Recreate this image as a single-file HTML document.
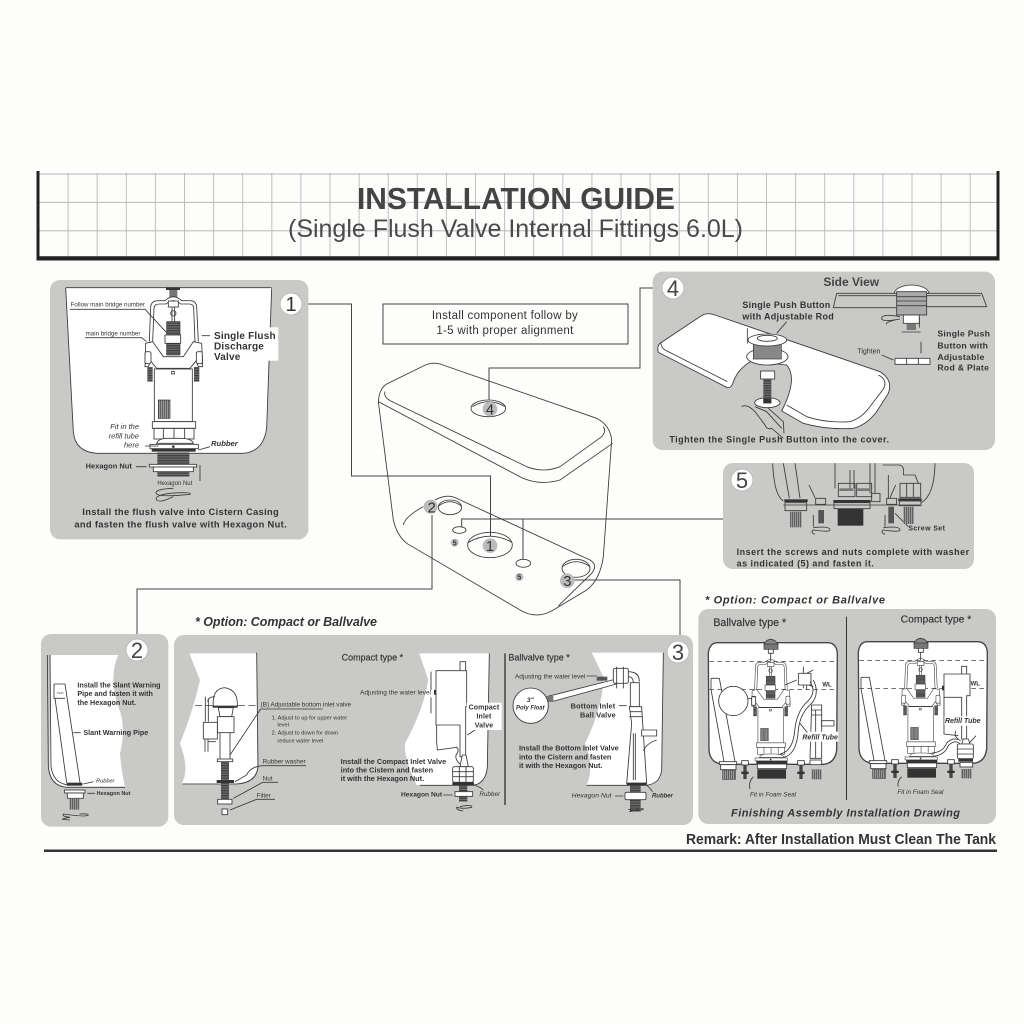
<!DOCTYPE html>
<html><head><meta charset="utf-8"><title>Installation Guide</title>
<style>
html,body{margin:0;padding:0;background:#fdfdfc;width:1024px;height:1024px;overflow:hidden}
svg{display:block;filter:blur(.35px)}
text{font-family:"Liberation Sans",sans-serif;fill:#333}
.b{font-weight:bold}.i{font-style:italic}
.l{fill:none;stroke:#3a3a3a;stroke-width:2.6}
.t{fill:none;stroke:#444;stroke-width:2.2}
.w{fill:#fff;stroke:#3a3a3a;stroke-width:2.6}
.d{fill:#333;stroke:none}
.p{fill:#c9c9c7}
.c{fill:#fff;stroke:#bbb;stroke-width:1}
.cn{fill:#333;text-anchor:middle;font-size:20px}
</style></head><body>
<svg xmlns="http://www.w3.org/2000/svg" width="1024" height="1024" viewBox="0 0 1024 1024">
<defs>
<pattern id="h" patternUnits="userSpaceOnUse" width="6" height="5"><rect width="6" height="5" fill="#777"/><rect width="6" height="2.4" fill="#333"/></pattern>
<pattern id="v" patternUnits="userSpaceOnUse" width="6" height="6"><rect width="6" height="6" fill="#999"/><rect width="2.5" height="6" fill="#555"/></pattern>
<pattern id="grid" patternUnits="userSpaceOnUse" x="67.6" y="173.5" width="29.1" height="28.4"><path d="M.5,0V28.4M0,.5H29.1" stroke="#b8b8b8" stroke-width=".9" fill="none"/></pattern>
<g id="valve">
 <path class="l" d="M358,530 L362,425 Q364,407 385,407 L405,407 Q418,395 430,395 Q442,395 455,407 L480,407 Q498,407 500,425 L505,530"/>
 <path class="l" d="M368,530 L372,428 Q374,417 388,417 L408,417 Q420,407 430,407 Q442,407 452,417 L478,417 Q490,417 491,428 L495,530"/>
 <rect class="w" x="415" y="408" width="30" height="18"/>
 <circle class="l" cx="430" cy="445" r="8"/>
 <path class="l" d="M426,426V470M434,426V470"/>
 <rect x="410" y="470" width="40" height="100" fill="url(#h)" stroke="#333" stroke-width="2"/>
 <rect class="w" x="405" y="510" width="47" height="25"/>
 <path class="w" d="M347,535 L368,530 L400,575 L460,575 L490,530 L515,535 L518,605 L505,605 L498,588 L480,610 L380,610 L362,588 L355,605 L345,605 Z"/>
 <rect class="w" x="345" y="560" width="18" height="36" rx="5"/><rect class="w" x="499" y="560" width="18" height="36" rx="5"/>
 <rect x="352" y="606" width="16" height="44" fill="url(#h)"/><rect x="492" y="606" width="16" height="44" fill="url(#h)"/>
 <rect class="w" x="373" y="612" width="114" height="158"/>
 <rect x="385" y="705" width="35" height="55" fill="url(#v)" stroke="#333" stroke-width="2"/>
 <rect class="l" x="425" y="619" width="8" height="8"/>
 <rect class="w" x="367" y="770" width="130" height="20"/>
 <rect class="l" x="372" y="790" width="120" height="32"/>
 <path class="l" d="M400,790V822M432,790V822M464,790V822"/>
 <path class="w" d="M380,835 Q385,820 415,820 L450,820 Q485,820 490,835Z"/>
 <rect class="w" x="360" y="838" width="145" height="13"/>
 <circle class="d" cx="430" cy="845" r="4"/>
 <rect class="d" x="365" y="852" width="132" height="8"/>
</g>
<g id="tank">
 <path class="w" style="stroke-width:4;stroke:#444" d="M50,38 L385,38 Q410,40 412,70 L410,360 Q405,400 370,403 L70,403 Q30,400 27,360 L25,70 Q28,40 50,38Z"/>
 <path class="t" stroke-dasharray="14 10" d="M28,95H412M28,178H412"/>
 <path class="w" d="M192,45 Q195,30 212,28 Q230,30 234,45Z" style="fill:#888"/>
 <rect x="192" y="42" width="42" height="16" fill="#777" stroke="#333" stroke-width="2"/>
 <path class="l" d="M205,58 L205,70 L220,70 L220,58M212,70V95"/>
 <g transform="translate(-75 -175) scale(.667)"><use href="#valve"/></g>
 <path class="l" d="M33,145 L58,145 L105,395M33,145 L33,178 L72,395"/>
 <rect class="w" x="58" y="395" width="52" height="9"/>
 <rect x="68" y="420" width="38" height="28" fill="url(#v)" stroke="#444" stroke-width="2"/>
 <rect class="w" x="62" y="404" width="46" height="15"/>
 <rect x="170" y="393" width="92" height="9" fill="#333"/>
 <rect class="w" x="172" y="402" width="88" height="14"/>
 <rect class="d" x="172" y="418" width="86" height="28"/>
 <g id="sc"><rect class="w" x="125" y="392" width="20" height="13"/><rect x="130" y="405" width="10" height="42" fill="#444"/><rect class="d" x="124" y="425" width="22" height="7"/></g>
 <use href="#sc" x="168"/>
</g>
</defs>

<!-- Header -->
<rect x="39" y="173" width="958" height="84" fill="url(#grid)"/>
<path d="M38,171V259H998V171" fill="none" stroke="#222" stroke-width="3"/>
<path d="M38,258H998" stroke="#222" stroke-width="3.5"/>
<text x="357" y="209" class="b" font-size="31" textLength="318" lengthAdjust="spacingAndGlyphs" style="fill:#444">INSTALLATION GUIDE</text>
<text x="288" y="237" font-size="25" textLength="455" lengthAdjust="spacingAndGlyphs" style="fill:#4a4a4a">(Single Flush Valve Internal Fittings 6.0L)</text>

<!-- Connectors -->
<g fill="none" stroke="#444" stroke-width="1">
 <path d="M300,304H351.5V476H490.5V536"/>
 <path d="M662,288H640V368H489V400"/>
 <path d="M742,490V519H461.7V527M523,519V559"/>
 <path d="M137,638V589H432V515"/>
 <path d="M680,640V580H573"/>
</g>

<!-- Panel 1 -->
<g transform="translate(30 165) scale(.33333)">
 <rect class="p" x="60" y="345" width="775" height="778" rx="30"/>
 <path fill="#fff" d="M107,368 L725,368 L710,790 Q700,860 640,865 L200,865 Q135,860 130,800Z"/>
 <path class="l" d="M107,368 H725 M107,368 L130,800 Q135,860 200,865 L640,865 Q700,860 710,790 L725,370"/>
 <rect x="515" y="487" width="230" height="100" fill="#fff"/>
 <rect class="d" x="408" y="367" width="42" height="8"/><rect fill="#777" x="418" y="375" width="24" height="22"/>
 <use href="#valve"/>
 <rect x="382" y="862" width="96" height="36" fill="url(#h)"/>
 <rect class="w" x="358" y="898" width="142" height="8"/>
 <rect class="w" x="370" y="906" width="120" height="14"/>
 <rect x="382" y="920" width="96" height="15" fill="url(#h)"/>
 <path class="l" d="M430,970 Q375,972 378,985 Q385,998 480,988 Q490,980 420,985 Q370,992 380,1005 Q390,1015 430,995"/>
 <path class="l" d="M510,900V948M120,433H345L410,503M165,518H335L350,530M318,905H350M515,512H540M345,843H385M505,855L540,845"/>
 <text x="122" y="425" font-size="18.5">Follow main bridge number</text>
 <text x="167" y="512" font-size="18.5">main bridge number</text>
 <g class="b" font-size="30" letter-spacing=".6"><text x="552" y="522">Single Flush</text><text x="552" y="553">Discharge</text><text x="552" y="585">Valve</text></g>
 <g class="i" font-size="22.5" text-anchor="end"><text x="327" y="792">Fit in the</text><text x="327" y="820">refill tube</text><text x="327" y="848">here</text></g>
 <text x="543" y="843" class="b i" font-size="23">Rubber</text>
 <text x="167" y="910" class="b" font-size="22.5">Hexagon Nut</text>
 <text x="382" y="960" font-size="18">Hexagon Nut</text>
 <g class="b" font-size="28" text-anchor="middle" letter-spacing="1"><text x="452" y="1050">Install the flush valve into Cistern Casing</text><text x="452" y="1088">and fasten the flush valve with Hexagon Nut.</text></g>
</g>
<circle class="c" cx="291" cy="304" r="11"/><text x="291" y="311" class="cn">1</text>

<!-- Cistern -->
<rect x="383" y="304" width="245" height="40" fill="#fdfdfc" stroke="#444" stroke-width="1"/>
<g font-size="11.5" text-anchor="middle" style="letter-spacing:.3px"><text x="505" y="319">Install component follow by</text><text x="505" y="334">1-5 with proper alignment</text></g>
<g transform="translate(340 290) scale(.33333)">
 <path class="l" d="M115,335 L160,690 Q170,735 200,760 L540,960 Q590,990 640,960 L740,900 Q780,870 790,800 L815,450"/>
 <path class="l" d="M115,335 Q118,295 140,282 L250,228 Q275,215 300,222 L770,385 Q810,405 815,450"/>
 <path class="l" d="M115,335 L530,555 Q590,590 660,570 L818,460"/>
 <path class="l" d="M135,305 Q130,320 150,332 L560,530 Q610,550 660,530 L785,440 Q800,425 790,410"/>
 <path class="l" d="M190,705 Q195,680 250,650 M285,630 Q320,610 350,625 L750,810 Q775,825 755,850 L655,948"/>
 <g class="l">
  <ellipse cx="445" cy="355" rx="52" ry="25"/><path d="M398,350 Q445,320 495,350"/>
  <ellipse cx="330" cy="652" rx="35" ry="22"/><path d="M296,648 Q330,622 364,648"/>
  <ellipse cx="450" cy="765" rx="67" ry="38"/><path d="M385,757 Q450,720 516,757"/>
  <ellipse cx="358" cy="720" rx="20" ry="10"/>
  <ellipse cx="550" cy="820" rx="22" ry="12"/>
  <ellipse cx="708" cy="835" rx="42" ry="27"/><path d="M667,830 Q708,800 750,830"/>
 </g>
 <g fill="#bbb"><circle cx="450" cy="357" r="22"/><circle cx="272" cy="650" r="21"/><circle cx="450" cy="767" r="22"/><circle cx="682" cy="872" r="22"/><circle cx="344" cy="758" r="12"/><circle cx="538" cy="861" r="12"/></g>
 <g font-size="44" text-anchor="middle" style="fill:#444"><text x="450" y="373">4</text><text x="275" y="667">2</text><text x="450" y="783">1</text><text x="682" y="888">3</text></g>
 <g font-size="22" text-anchor="middle" class="b"><text x="344" y="766">5</text><text x="538" y="869">5</text></g>
</g>

<!-- Panel 4 -->
<g transform="translate(640 265) scale(.33333)">
 <rect class="p" x="38" y="20" width="1027" height="535" rx="30"/>
 <path class="w" d="M60,235 Q50,245 55,262 L262,368 Q275,370 280,350 Q295,310 335,288 L440,300 Q475,340 425,438 L490,475 Q560,495 640,490 Q680,480 710,440 L745,385 Q760,345 720,320 L225,150 Q200,140 180,155Z"/>
 <path class="l" d="M62,232 Q64,250 75,255 L262,350 M440,420 L500,455 Q560,475 630,470 Q665,460 690,425 L730,372 Q745,345 715,330"/>
 <path class="l" d="M305,425 Q320,415 345,440 L375,480 Q380,495 395,490 L430,520 M345,425 L380,440 L425,490 M385,430 L430,470 L432,505"/>
 <ellipse class="w" cx="382" cy="413" rx="38" ry="15"/>
 <rect x="370" y="340" width="24" height="75" fill="url(#h)"/><rect class="d" x="370" y="400" width="24" height="15"/>
 <rect class="w" x="362" y="318" width="42" height="24"/>
 <ellipse class="w" cx="382" cy="275" rx="62" ry="25"/>
 <rect x="340" y="232" width="84" height="50" fill="#888" stroke="#333" stroke-width="2"/>
 <ellipse class="w" cx="382" cy="225" rx="58" ry="18"/><ellipse class="w" cx="382" cy="220" rx="30" ry="9"/>
 <path class="l" d="M322,190V235M440,170L410,205"/>
 <path class="l" d="M590,85 L770,85 M590,85 L580,128 L768,128 M595,92H770M860,85 L1025,85 L1040,125 L860,125M860,92H1022"/>
 <path class="w" d="M762,85 Q770,62 815,60 Q860,62 868,85Z"/>
 <rect class="w" x="770" y="80" width="90" height="70" style="fill:#aaa"/>
 <path class="l" d="M770,95H860M770,108H860M770,122H860"/>
 <rect class="w" x="790" y="150" width="48" height="25"/>
 <rect x="800" y="175" width="28" height="20" fill="#777"/>
 <path class="l" d="M785,201H842M838,188V155M843,265V230M725,270L760,285M780,155 Q725,145 725,160 Q725,172 780,162 Q735,170 740,178"/>
 <rect class="w" x="765" y="280" width="105" height="18"/><path class="l" d="M800,280V298M835,280V298"/>
 <text x="550" y="63" class="b" font-size="36" style="fill:#444">Side View</text>
 <g class="b" font-size="27" letter-spacing=".9"><text x="307" y="129">Single Push Button</text><text x="307" y="163">with Adjustable Rod</text>
 <text x="892" y="215" font-size="26">Single Push</text><text x="892" y="250" font-size="26">Button with</text><text x="892" y="285" font-size="26">Adjustable</text><text x="892" y="317" font-size="26">Rod &amp; Plate</text>
 <text x="88" y="532" textLength="660" lengthAdjust="spacing">Tighten the Single Push Button into the cover.</text></g>
 <text x="652" y="265" font-size="21">Tighten</text>
</g>
<circle class="c" cx="673" cy="288" r="11"/><text x="673" y="296" class="cn" style="fill:#444;font-size:22px">4</text>

<!-- Panel 5 -->
<rect class="p" x="723" y="463" width="251" height="106" rx="10"/>
<g transform="translate(750 455) scale(.33333)">
 <path class="l" d="M68,25 Q72,120 100,138 M555,25 Q553,120 515,142 M100,25 L118,130 M135,25 L150,130 M100,150H510"/>
 <path class="l" d="M255,25V100 M300,45V100 M312,45V100M360,25V115M375,25V115M415,60V130 M398,30H445Q465,30 460,60"/>
 <rect class="l" x="265" y="85" width="50" height="40"/><rect class="l" x="320" y="85" width="45" height="40"/><rect class="l" x="365" y="115" width="25" height="25"/>
 <rect fill="#777" x="268" y="100" width="42" height="8"/><rect fill="#777" x="322" y="100" width="40" height="8"/>
 <rect class="d" x="250" y="135" width="112" height="8"/><rect class="l" x="252" y="143" width="108" height="18"/>
 <rect class="d" x="263" y="162" width="77" height="50"/>
 <rect class="d" x="103" y="133" width="70" height="8"/><rect class="l" x="105" y="143" width="65" height="24"/><rect x="120" y="170" width="35" height="47" fill="url(#v)"/>
 <rect class="l" x="197" y="130" width="30" height="18"/><rect x="205" y="165" width="17" height="40" fill="#555"/>
 <rect class="l" x="410" y="130" width="30" height="18"/><rect x="415" y="155" width="17" height="50" fill="#555"/>
 <path class="l" d="M177,90L195,128M437,90L420,128M190,180V215M405,180V215M435,175L475,215"/>
 <path class="l" d="M190,218 Q240,212 240,225 Q240,232 190,225 Q180,232 195,238"/>
 <path class="l" d="M400,218 Q450,212 450,225 Q450,232 400,225 Q390,232 405,238"/>
 <rect class="l" x="450" y="85" width="62" height="42"/><path class="l" d="M460,60H495L505,85M470,85V127M490,85V127"/>
 <rect class="d" x="445" y="130" width="70" height="8"/><rect class="l" x="448" y="138" width="65" height="14"/><rect x="460" y="155" width="32" height="52" fill="url(#v)"/>
</g>
<g transform="translate(640 265) scale(.33333)">
 <text x="805" y="797" class="b" font-size="21" letter-spacing="1.2">Screw Set</text>
 <g class="b" font-size="27" letter-spacing=".6"><text x="290" y="870" textLength="698" lengthAdjust="spacing">Insert the screws and nuts complete with washer</text><text x="290" y="905" textLength="412" lengthAdjust="spacing">as indicated (5) and fasten it.</text></g>
</g>
<circle class="c" cx="742" cy="480" r="11"/><text x="742" y="488" class="cn" style="fill:#444;font-size:22px">5</text>

<!-- Panels 2 & options -->
<text x="195" y="626" class="b i" font-size="12.5" textLength="182" lengthAdjust="spacing">* Option: Compact or Ballvalve</text>
<g transform="translate(30 610) scale(.33333)">
 <rect class="p" x="33" y="72" width="382" height="578" rx="30"/>
 <rect class="p" x="432" y="75" width="1557" height="570" rx="30"/>
 <path fill="#fff" d="M62,135 L265,135 Q235,200 265,290 Q290,350 270,430 Q275,490 285,530 L110,530 Q60,525 58,470Z"/>
 <path class="l" d="M52,135 L55,470 Q60,528 110,532 L285,532 M60,135 L63,470 Q70,518 110,524"/>
 <path class="l" d="M72,222 L105,222 L150,518 M75,265 L110,518 M72,222V265H105"/>
 <text x="81" y="252" font-size="8">TEXT</text>
 <rect class="d" x="110" y="518" width="47" height="9"/>
 <rect class="w" x="103" y="540" width="62" height="9"/><rect class="w" x="112" y="549" width="48" height="16"/>
 <rect x="118" y="565" width="30" height="34" fill="url(#v)"/>
 <path class="l" d="M148,612 Q175,610 175,615 Q170,622 100,612 Q95,620 120,622 Q100,625 97,628 L120,630"/>
 <path class="l" d="M130,368H152M160,522L190,515M172,550H195"/>
 <g class="b" font-size="21.5"><text x="142" y="232">Install the Slant Warning</text><text x="142" y="258">Pipe and fasten it with</text><text x="142" y="285">the Hexagon Nut.</text>
 <text x="160" y="375">Slant Warning Pipe</text></g>
 <text x="198" y="518" class="i" font-size="17">Rubber</text>
 <text x="200" y="555" class="b" font-size="16.5">Hexagon Nut</text>

 <path fill="#fff" d="M478,130 L680,130 L682,470 Q678,515 620,520 L455,520 Q480,480 450,400 Q490,300 510,210Z"/>
 <path class="l" d="M680,128 L684,470 Q680,518 620,522 L457,522"/>
 <path class="t" stroke-dasharray="22 10" d="M495,286H680"/>
 <path class="w" d="M550,290 Q545,235 585,233 Q625,240 622,290Z"/>
 <rect class="d" x="548" y="287" width="75" height="6"/>
 <path class="w" d="M565,293H610L605,320H570Z"/>
 <rect class="w" x="562" y="320" width="50" height="48"/>
 <path class="l" d="M555,260 Q535,260 533,275 M526,260V335M535,265V335"/>
 <rect class="w" x="520" y="337" width="42" height="50"/>
 <path class="l" d="M525,387V425M534,387V425M534,395H558"/>
 <path class="l" d="M570,368V447M600,368V447"/>
 <rect class="w" x="562" y="447" width="46" height="8"/>
 <rect x="573" y="455" width="24" height="115" fill="url(#h)"/>
 <rect class="d" x="560" y="510" width="52" height="9"/>
 <rect class="w" x="563" y="568" width="43" height="14"/>
 <rect class="w" x="576" y="597" width="17" height="17"/>
 <path class="l" d="M692,297H878M692,297L600,435M698,467H828M698,467Q660,470 650,495 L615,515M698,517H745M698,517L610,565M680,568H735M680,568L600,600"/>
 <g font-size="19"><text x="692" y="289">(B) Adjustable bottom inlet valve</text><text x="698" y="461">Rubber washer</text><text x="698" y="511">Nut</text><text x="680" y="562">Filter</text></g>
 <g font-size="17"><text x="725" y="328">1. Adjust to up for upper water</text><text x="742" y="349">level</text><text x="725" y="374">2. Adjust to down for down</text><text x="742" y="397">reduce water level</text></g>
</g>

<g transform="translate(360 610) scale(.33333)">
 <path fill="#fff" d="M178,130 L388,130 L382,470 Q378,518 340,525 L170,525 Q130,440 135,400 Q190,300 205,210Z"/>
 <path class="l" d="M388,130 L382,470 Q378,520 340,526 L180,526"/>
 <rect class="w" x="300" y="155" width="17" height="30"/>
 <path class="w" d="M228,182 H320 V290 H317 V440 H300 V345 H228 Z" style="fill:#fff"/>
 <path class="l" d="M230,345 V395 L232,420 L290,412 Q300,420 288,435 Q285,450 300,462"/>
 <path class="l" d="M213,185V240M213,262V310"/>
 <rect class="d" x="222" y="240" width="6" height="14"/>
 <rect x="320" y="278" width="105" height="82" fill="#fff"/>
 <path class="w" d="M300,470 L307,435 H318 L325,470Z"/>
 <rect class="w" x="278" y="470" width="62" height="47" rx="5"/>
 <path class="l" d="M278,485H340M278,500H340M298,470V517M318,470V517"/>
 <rect class="d" x="277" y="517" width="65" height="8"/>
 <rect x="297" y="525" width="25" height="50" fill="url(#h)"/>
 <rect class="w" x="285" y="545" width="53" height="14"/>
 <path class="l" d="M300,590 Q340,582 335,592 Q310,598 290,592 Q288,600 310,603"/>
 <path class="l" d="M322,375L345,360M250,555H278M340,525Q360,530 370,540"/>
 <g class="b" font-size="21" text-anchor="middle" letter-spacing=".4"><text x="372" y="298">Compact</text><text x="372" y="325">Inlet</text><text x="372" y="352">Valve</text></g>
 <text x="-55" y="152" font-size="27" style="stroke:#333;stroke-width:.5">Compact type *</text>
 <text x="213" y="253" font-size="19.7" text-anchor="end">Adjusting the water level</text>
 <g class="b" font-size="22"><text x="-58" y="462">Install the Compact Inlet Valve</text><text x="-58" y="488">into the Cistern and fasten</text><text x="-58" y="513">it with the Hexagon Nut.</text></g>
 <text x="123" y="560" class="b" font-size="20">Hexagon Nut</text>
 <text x="358" y="558" class="i" font-size="19">Rubber</text>

 <rect class="d" x="433" y="130" width="4" height="455"/>
 <text x="445" y="152" font-size="27" style="stroke:#333;stroke-width:.5">Ballvalve type *</text>
 <path fill="#fff" d="M695,128 L910,128 L905,480 Q900,520 860,525 L680,525 Q705,470 675,400 Q730,290 730,200Z"/>
 <path class="l" d="M910,128 L905,480 Q900,521 860,526 L680,526"/>
 <path class="w" d="M560,260 L765,208 L770,222 L575,275Z"/>
 <rect x="558" y="258" width="22" height="18" fill="#777"/>
 <circle class="w" cx="512" cy="287" r="53"/>
 <g class="i b" font-size="18" text-anchor="middle"><text x="511" y="276" font-size="20">3"</text><text x="511" y="298">Poly Float</text></g>
 <rect x="710" y="200" width="32" height="12" fill="#555"/>
 <rect class="w" x="760" y="175" width="45" height="45" rx="5"/>
 <path class="l" d="M805,185 Q838,185 838,215 M805,200 Q820,200 820,220M770,170V235M790,170V235"/>
 <path class="w" d="M811,218H838V290H811Z"/>
 <path class="w" d="M808,290H845L848,340L860,520H800L815,340Z"/>
 <path class="l" d="M810,305H845M808,320H848M826,370V510M820,370V510"/>
 <rect class="d" x="800" y="518" width="60" height="7"/>
 <rect x="810" y="525" width="32" height="80" fill="url(#h)"/>
 <rect class="w" x="795" y="547" width="63" height="22" rx="4"/>
 <path class="w" d="M845,360H890V378H845Z"/>
 <path class="l" d="M890,390 Q860,400 850,422 M808,605 Q852,592 850,598 Q835,605 805,598"/>
 <text x="465" y="205" font-size="19.5">Adjusting the water level</text>
 <path class="l" d="M680,198H710M777,287H800M765,558H790M860,525Q870,535 878,545"/>
 <g class="b" font-size="22" letter-spacing=".5"><text x="632" y="296">Bottom Inlet</text><text x="660" y="323">Ball Valve</text></g>
 <g class="b" font-size="22"><text x="477" y="422">Install the Bottom Inlet Valve</text><text x="477" y="448">into the Cistern and fasten</text><text x="477" y="474">it with the Hexagon Nut.</text></g>
 <text x="635" y="563" class="i" font-size="20.5">Hexagon Nut</text>
 <text x="876" y="563" class="i b" font-size="18">Rubber</text>
</g>
<circle class="c" cx="137" cy="650" r="11"/><text x="137" y="658" class="cn" style="fill:#444;font-size:22px">2</text>
<circle class="c" cx="678" cy="652" r="11"/><text x="678" y="660" class="cn" style="fill:#444;font-size:22px">3</text>

<!-- Finishing panel -->
<g transform="translate(690 585) scale(.33333)">
 <text x="45" y="55" class="b i" font-size="33" textLength="540" lengthAdjust="spacing">* Option: Compact or Ballvalve</text>
 <rect class="p" x="25" y="72" width="893" height="645" rx="30"/>
 <text x="70" y="123" font-size="32" style="stroke:#333;stroke-width:.5">Ballvalve type *</text>
 <text x="632" y="113" font-size="31" style="stroke:#333;stroke-width:.5">Compact type *</text>
 <rect class="d" x="468" y="95" width="3" height="550"/>
 <text x="123" y="695" class="b i" font-size="33" textLength="687" lengthAdjust="spacing">Finishing Assembly Installation Drawing</text>
 <path class="l" d="M190,575 Q175,590 180,612M635,575 Q620,590 625,605"/>
 <text x="180" y="635" class="i" font-size="19">Fit in Foam Seal</text>
 <text x="622" y="627" class="i" font-size="19">Fit in Foam Seal</text>
</g>
<g transform="translate(700 630) scale(.33333)">
 <use href="#tank"/>
 <circle class="w" cx="100" cy="213" r="44"/>
 <path class="l" d="M145,205 L160,208M255,165L290,150"/>
 <rect class="w" x="155" y="200" width="12" height="26" rx="3"/>
 <path class="l" d="M310,110V175M300,140L340,120M300,155L340,170M320,130V180"/>
 <rect class="w" x="295" y="130" width="38" height="35" rx="3"/>
 <path class="l" d="M250,382 Q290,375 295,300 Q300,250 335,220 Q360,190 340,150M240,372 Q280,365 285,295 Q292,240 325,212 Q350,185 330,155"/>
 <path class="w" d="M335,225 H365 V385 H330Z"/>
 <path class="l" d="M347,240V385M335,240H365M335,255H365"/>
 <path class="w" d="M365,272H402V288H365Z"/>
 <rect class="w" x="330" y="390" width="35" height="14"/>
 <rect x="335" y="418" width="30" height="30" fill="url(#v)"/>
 <rect fill="#fff" x="303" y="305" width="112" height="30"/>
 <path class="l" d="M300,280L322,308"/>
 <text x="307" y="328" class="i b" font-size="21">Refill Tube</text>
 <text x="367" y="170" class="b" font-size="18">WL</text>
</g>
<g transform="translate(850 629) scale(.33333)">
 <use href="#tank"/>
 <rect class="w" x="335" y="112" width="15" height="24"/>
 <path class="w" d="M282,135H360V200H350V330H335V205H282Z"/>
 <path class="l" d="M282,205V315L325,320M318,305 Q310,320 325,330"/>
 <rect class="d" x="276" y="170" width="6" height="14"/>
 <path class="l" d="M250,382 Q285,378 295,350 Q315,330 330,345M245,372 Q280,370 290,342 Q310,322 332,335M360,340L378,320"/>
 <path class="w" d="M335,345L340,330H355L360,345Z"/>
 <rect class="w" x="322" y="345" width="48" height="44" rx="5"/>
 <path class="l" d="M322,360H370M322,375H370"/>
 <rect class="d" x="325" y="390" width="44" height="8"/>
 <rect x="333" y="420" width="32" height="28" fill="url(#v)"/>
 <rect class="w" x="330" y="400" width="38" height="14"/>
 <rect fill="#fff" x="283" y="262" width="112" height="28"/>
 <text x="285" y="282" class="i b" font-size="21">Refill Tube</text>
 <text x="362" y="170" class="b" font-size="18">WL</text>
</g>

<!-- Remark -->
<text x="686" y="844" class="b" font-size="15" textLength="310" lengthAdjust="spacingAndGlyphs">Remark: After Installation Must Clean The Tank</text>
<rect x="44" y="849.5" width="953" height="2.5" fill="#333"/>
</svg>
</body></html>
